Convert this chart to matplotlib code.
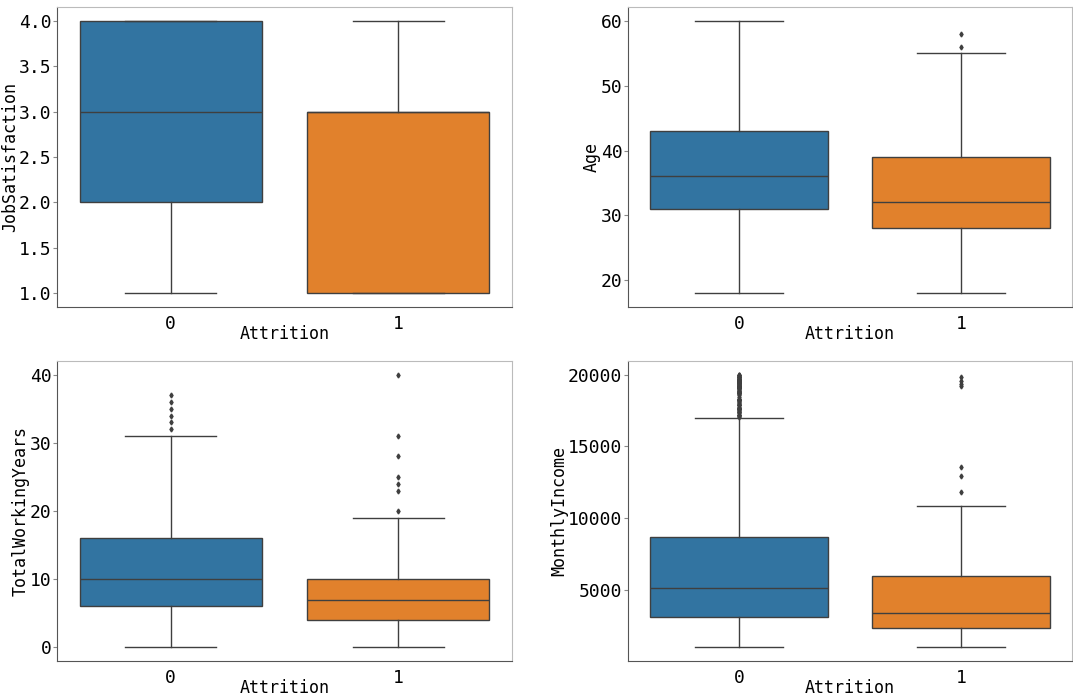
import matplotlib
matplotlib.use("Agg")
import matplotlib.pyplot as plt

# box statistics, one entry per Attrition group (0, 1)
groups = ["0", "1"]

job_med = [3.0, 3.0]
job_q1 = [2.0, 1.0]
job_q3 = [4.0, 3.0]
job_lo = [1.0, 1.0]
job_hi = [4.0, 4.0]
job_fliers = [[], []]

age_med = [36, 32]
age_q1 = [31, 28]
age_q3 = [43, 39]
age_lo = [18, 18]
age_hi = [60, 55]
age_fliers = [[], [56, 58]]

twy_med = [10, 7]
twy_q1 = [6, 4]
twy_q3 = [16, 10]
twy_lo = [0, 0]
twy_hi = [31, 19]
twy_fliers = [[32, 33, 34, 35, 36, 37], [20, 23, 24, 25, 28, 31, 40]]

inc_med = [5150, 3420]
inc_q1 = [3120, 2380]
inc_q3 = [8680, 5980]
inc_lo = [1050, 1010]
inc_hi = [16960, 10860]
inc_fliers = [
    [17048, 17123, 17159, 17174, 17181, 17328, 17399, 17426, 17465, 17567,
     17584, 17603, 17639, 17650, 17665, 17779, 17856, 17861, 17875, 17924,
     18041, 18061, 18172, 18200, 18213, 18265, 18300, 18303, 18430, 18606,
     18665, 18711, 18722, 18740, 18789, 18824, 18844, 18880, 18947, 19033,
     19045, 19049, 19081, 19094, 19141, 19144, 19161, 19189, 19197, 19202,
     19232, 19237, 19246, 19272, 19328, 19332, 19392, 19406, 19419, 19431,
     19436, 19502, 19513, 19517, 19537, 19545, 19566, 19586, 19613, 19626,
     19636, 19658, 19665, 19701, 19717, 19740, 19833, 19845, 19847, 19859,
     19926, 19943, 19973, 19999],
    [11860, 12950, 13600, 19190, 19330, 19545, 19845],
]

colors = ["#3274a1", "#e1812c"]
line_c = "#3f3f3f"

plt.rcParams["font.family"] = ["DejaVu Sans Mono"]


def stats(med, q1, q3, lo, hi, fl):
    out = []
    for i in range(len(groups)):
        out.append({"med": med[i], "q1": q1[i], "q3": q3[i],
                    "whislo": lo[i], "whishi": hi[i], "fliers": fl[i]})
    return out


panels = [
    ("JobSatisfaction", stats(job_med, job_q1, job_q3, job_lo, job_hi, job_fliers)),
    ("Age", stats(age_med, age_q1, age_q3, age_lo, age_hi, age_fliers)),
    ("TotalWorkingYears", stats(twy_med, twy_q1, twy_q3, twy_lo, twy_hi, twy_fliers)),
    ("MonthlyIncome", stats(inc_med, inc_q1, inc_q3, inc_lo, inc_hi, inc_fliers)),
]

W, H = 1073, 698
fig = plt.figure(figsize=(W / 100, H / 100), dpi=100)

# axes boxes in pixels: left, right, top, bottom
boxes = [(57, 512, 7, 307), (628, 1072, 7, 307),
         (57, 512, 361, 661), (628, 1072, 361, 661)]

for (label, st), (l, r, t, b) in zip(panels, boxes):
    ax = fig.add_axes([l / W, 1 - b / H, (r - l) / W, (b - t) / H])
    bp = ax.bxp(st, positions=[0, 1], widths=0.8, capwidths=0.4,
                patch_artist=True, showfliers=True,
                boxprops=dict(edgecolor=line_c, linewidth=1.0),
                whiskerprops=dict(color=line_c, linewidth=1.0),
                capprops=dict(color=line_c, linewidth=1.0),
                medianprops=dict(color=line_c, linewidth=1.0),
                flierprops=dict(marker="d", markersize=2.5, markerfacecolor=line_c,
                                markeredgecolor=line_c, linestyle="none"))
    for patch, c in zip(bp["boxes"], colors):
        patch.set_facecolor(c)
    ax.set_xlim(-0.5, 1.5)
    ax.set_xticks([0, 1])
    ax.set_xticklabels(groups)
    ax.set_xlabel("Attrition", fontsize=12, labelpad=-6)
    ax.set_ylabel(label, fontsize=12, labelpad=0)
    ax.tick_params(axis="x", length=0, labelsize=13, pad=6)
    ax.tick_params(axis="y", length=3, color="#888888", labelsize=13, pad=1)
    for s in ["left", "bottom"]:
        ax.spines[s].set_color("#555555")
    for s in ["top", "right"]:
        ax.spines[s].set_color("#bbbbbb")

fig.savefig("out.png", dpi=100)
